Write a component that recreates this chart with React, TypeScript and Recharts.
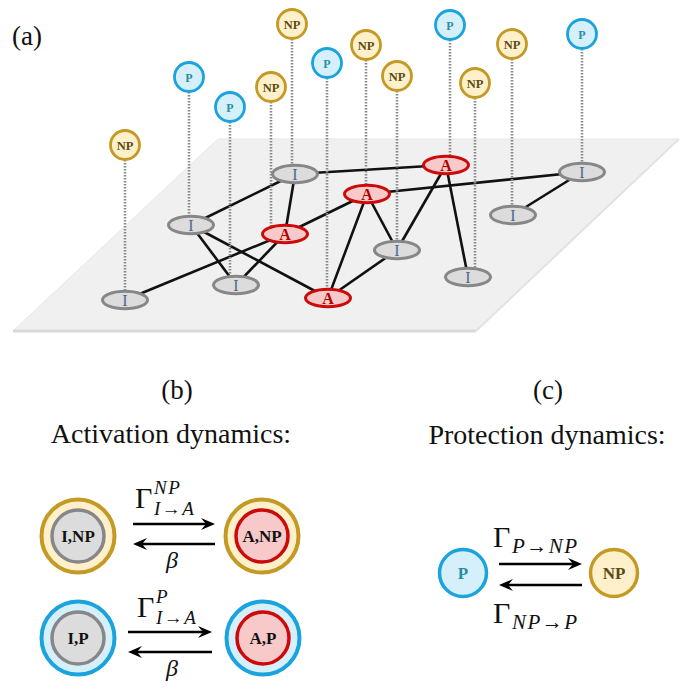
import { Scatter, ScatterChart, XAxis, YAxis } from "recharts";

const W = 687;
const H = 690;
const SERIF = "'Liberation Serif', 'Times New Roman', serif";

// (a) plane corners
const planeX = [218, 679, 476, 13];
const planeY = [139, 139, 331, 331];

// (a) network nodes on the plane
const nodeState = ["I", "I", "I", "A", "I", "A", "A", "A", "I", "I", "I", "I"];
const nodeX = [125, 191, 295, 285, 236, 328, 367, 446, 397, 468, 513, 582];
const nodeY = [300, 225, 174, 234, 285, 298, 194, 165, 250, 277, 215, 172];

// (a) protection tags above each node
const tagState = ["NP", "P", "NP", "NP", "P", "P", "NP", "P", "NP", "NP", "NP", "P"];
const tagX = [125, 189, 292, 271, 230, 327, 366, 450, 397, 475, 512, 582];
const tagY = [145, 77, 24, 87, 107, 63, 45, 25, 76, 83, 44, 34];

const edges = [
  [0, 3], [1, 2], [1, 4], [1, 5], [2, 3], [2, 7], [3, 4], [3, 6],
  [6, 11], [6, 5], [6, 8], [5, 8], [7, 8], [7, 9], [10, 11],
];

// (b) activation states
const pairLabel = ["I,NP", "A,NP", "I,P", "A,P"];
const pairX = [78, 262, 78, 263];
const pairY = [536, 536, 638, 638];

// (c) protection states
const protLabel = ["P", "NP"];
const protX = [463, 614];
const protY = [573, 573];

// arrows
const arrowFrom = [133, 215, 128, 212, 499, 582];
const arrowTo = [215, 133, 212, 128, 582, 499];
const arrowY = [524, 544, 632, 652, 564, 585];

// titles
const titleText = ["(a)", "(b)", "Activation dynamics:", "(c)", "Protection dynamics:"];
const titleX = [12, 177, 171, 548, 547];
const titleY = [45, 399, 443, 399, 444];
const titleSize = [27, 27, 28, 27, 28];

// rate labels
const rateSup = ["NP", "P", "", ""];
const rateSub = ["I\u2192A", "I\u2192A", "P\u2192NP", "NP\u2192P"];
const rateX = [135, 137, 493, 493];
const rateY = [508, 617, 547, 623];
const betaX = [172, 172];
const betaY = [568, 676];

const C = {
  npStroke: "#C49A24", npFill: "#FDF0CA", npText: "#5B4A12",
  pStroke: "#1AA3DD", pFill: "#D5F0FB", pText: "#2A8E9E",
  iStroke: "#878787", iFill: "#DCDCDC", iText: "#4B6B8C",
  aStroke: "#CC0A0A", aFill: "#F8C9C9", aText: "#B00000",
};

const Empty = () => <g />;

const planeData = planeX.map((x, i) => ({ x, y: planeY[i] }));
const nodeData = nodeX.map((x, i) => ({ x, y: nodeY[i], state: nodeState[i] }));
const tagData = tagX.map((x, i) => ({ x, y: tagY[i], state: tagState[i] }));

const planeLine = (p: any) => {
  const pts = p.points as { x: number; y: number }[];
  const d = pts.map((q, i) => `${i ? "L" : "M"}${q.x},${q.y}`).join(" ") + " Z";
  return (
    <g>
      <path d={d} fill="#F0F0F0" stroke="#E6E6E6" strokeWidth={1} />
      <line x1={pts[3].x} y1={pts[3].y} x2={pts[2].x} y2={pts[2].y} stroke="#D9D9D9" strokeWidth={3} />
      <line x1={pts[2].x} y1={pts[2].y} x2={pts[1].x} y2={pts[1].y} stroke="#E2E2E2" strokeWidth={2} />
    </g>
  );
};

const arrowLine = (p: any) => {
  const [a, b] = p.points;
  const dir = Math.sign(b.x - a.x);
  return (
    <g>
      <line x1={a.x} y1={a.y} x2={b.x - dir * 8} y2={b.y} stroke="#000" strokeWidth={2.6} />
      <path
        d={`M${b.x},${b.y} L${b.x - dir * 14},${b.y - 6} L${b.x - dir * 9},${b.y} L${b.x - dir * 14},${b.y + 6} Z`}
        fill="#000"
      />
    </g>
  );
};

const NodeShape = (props: any) => {
  const { cx, cy, payload } = props;
  const a = payload.state === "A";
  return (
    <g>
      <ellipse cx={cx} cy={cy} rx={22.5} ry={8.8} fill={a ? C.aFill : C.iFill} stroke={a ? C.aStroke : C.iStroke} strokeWidth={3} />
      <text x={cx} y={cy + 5.5} textAnchor="middle" fontFamily={SERIF} fontSize={16} fontWeight={a ? 700 : 400} fill={a ? C.aText : C.iText}>
        {payload.state}
      </text>
    </g>
  );
};

const TagShape = (props: any) => {
  const { cx, cy, payload } = props;
  const np = payload.state === "NP";
  return (
    <g>
      <circle cx={cx} cy={cy} r={14.5} fill={np ? C.npFill : C.pFill} stroke={np ? C.npStroke : C.pStroke} strokeWidth={2.8} />
      <text x={cx} y={cy + 4.5} textAnchor="middle" fontFamily={SERIF} fontSize={np ? 12.5 : 12} fontWeight={700} fill={np ? C.npText : C.pText}>
        {payload.state}
      </text>
    </g>
  );
};

const PairShape = (props: any) => {
  const { cx, cy, payload } = props;
  const [s, p] = payload.label.split(",");
  const np = p === "NP";
  const a = s === "A";
  return (
    <g>
      <circle cx={cx} cy={cy} r={36.5} fill={np ? C.npFill : C.pFill} stroke={np ? C.npStroke : C.pStroke} strokeWidth={4} />
      <circle cx={cx} cy={cy} r={26} fill={a ? C.aFill : C.iFill} stroke={a ? C.aStroke : C.iStroke} strokeWidth={3.5} />
      <text x={cx} y={cy + 6} textAnchor="middle" fontFamily={SERIF} fontSize={17} fontWeight={700} fill="#111">
        {payload.label}
      </text>
    </g>
  );
};

const ProtShape = (props: any) => {
  const { cx, cy, payload } = props;
  const np = payload.label === "NP";
  return (
    <g>
      <circle cx={cx} cy={cy} r={23.5} fill={np ? C.npFill : C.pFill} stroke={np ? C.npStroke : C.pStroke} strokeWidth={3.5} />
      <text x={cx} y={cy + 6} textAnchor="middle" fontFamily={SERIF} fontSize={17} fontWeight={700} fill={np ? C.npText : C.pText}>
        {payload.label}
      </text>
    </g>
  );
};

const TitleShape = (props: any) => {
  const { cx, cy, payload } = props;
  return (
    <text x={cx} y={cy} textAnchor={payload.anchor} fontFamily={SERIF} fontSize={payload.size} fill="#111">
      {payload.text}
    </text>
  );
};

const RateShape = (props: any) => {
  const { cx, cy, payload } = props;
  return (
    <g fill="#111" fontFamily={SERIF}>
      <text x={cx} y={cy} fontSize={30}>{"\u0393"}</text>
      {payload.sup ? (
        <text x={cx + 19} y={cy - 14} fontSize={19} fontStyle="italic" letterSpacing={1.5}>{payload.sup}</text>
      ) : null}
      <text x={cx + 19} y={cy + (payload.sup ? 7 : 6)} fontSize={payload.sup ? 19 : 21} fontStyle="italic" letterSpacing={1.5}>{payload.sub}</text>
    </g>
  );
};

const BetaShape = (props: any) => {
  const { cx, cy } = props;
  return (
    <text x={cx} y={cy} textAnchor="middle" fontFamily={SERIF} fontSize={24} fontStyle="italic" fill="#111">
      {"\u03B2"}
    </text>
  );
};

export default function App() {
  return (
    <div style={{ position: "fixed", left: 0, top: 0, background: "#fff" }}>
      <ScatterChart width={W} height={H} margin={{ top: 0, right: 0, bottom: 0, left: 0 }}>
        <XAxis type="number" dataKey="x" domain={[0, W]} allowDataOverflow hide />
        <YAxis type="number" dataKey="y" domain={[0, H]} allowDataOverflow reversed hide />

        <Scatter data={planeData} shape={Empty} line={planeLine} lineType="joint" isAnimationActive={false} />

        {edges.map(([a, b], i) => (
          <Scatter
            key={`e${i}`}
            data={[nodeData[a], nodeData[b]]}
            shape={Empty}
            line={{ stroke: "#111", strokeWidth: 2.6 }}
            lineType="joint"
            isAnimationActive={false}
          />
        ))}

        {tagData.map((t, i) => (
          <Scatter
            key={`s${i}`}
            data={[t, { x: t.x, y: nodeY[i] }]}
            shape={Empty}
            line={{ stroke: "#8A8A8A", strokeWidth: 2.6, strokeDasharray: "1.6 1.4" }}
            lineType="joint"
            isAnimationActive={false}
          />
        ))}

        <Scatter data={nodeData} shape={NodeShape} isAnimationActive={false} />
        <Scatter data={tagData} shape={TagShape} isAnimationActive={false} />

        {arrowFrom.map((x, i) => (
          <Scatter
            key={`a${i}`}
            data={[{ x, y: arrowY[i] }, { x: arrowTo[i], y: arrowY[i] }]}
            shape={Empty}
            line={arrowLine}
            lineType="joint"
            isAnimationActive={false}
          />
        ))}

        <Scatter data={pairX.map((x, i) => ({ x, y: pairY[i], label: pairLabel[i] }))} shape={PairShape} isAnimationActive={false} />
        <Scatter data={protX.map((x, i) => ({ x, y: protY[i], label: protLabel[i] }))} shape={ProtShape} isAnimationActive={false} />

        <Scatter
          data={titleText.map((text, i) => ({ x: titleX[i], y: titleY[i], text, size: titleSize[i], anchor: i === 0 ? "start" : "middle" }))}
          shape={TitleShape}
          isAnimationActive={false}
        />
        <Scatter
          data={rateX.map((x, i) => ({ x, y: rateY[i], sup: rateSup[i], sub: rateSub[i] }))}
          shape={RateShape}
          isAnimationActive={false}
        />
        <Scatter data={betaX.map((x, i) => ({ x, y: betaY[i] }))} shape={BetaShape} isAnimationActive={false} />
      </ScatterChart>
    </div>
  );
}
